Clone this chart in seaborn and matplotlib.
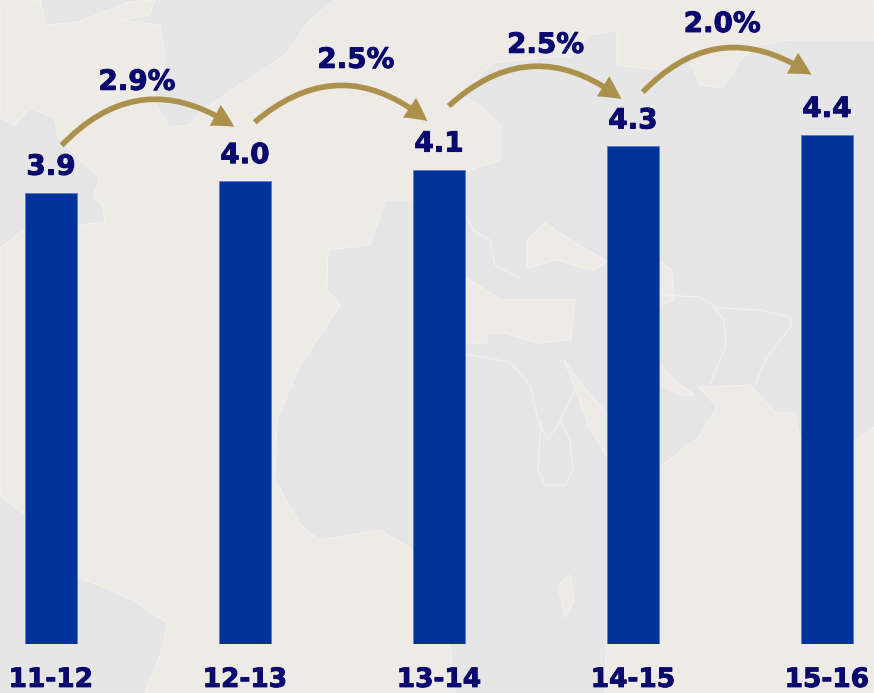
import matplotlib
matplotlib.use("Agg")
import matplotlib.pyplot as plt
import matplotlib.patheffects as pe
from matplotlib.patches import Polygon, FancyArrowPatch
import seaborn as sns

# data
periods = ["11-12", "12-13", "13-14", "14-15", "15-16"]
values = [3.9, 4.0, 4.1, 4.3, 4.4]
growth = ["2.9%", "2.5%", "2.5%", "2.0%"]

# annotation placement in data units
growth_x = [0.443, 1.572, 2.55, 3.46]
growth_y = [4.79, 4.98, 5.11, 5.29]
arrow_start_x = [0.055, 1.05, 2.05, 3.05]
arrow_end_x = [0.945, 1.94, 2.94, 3.92]
arrow_start_y = [4.31, 4.51, 4.65, 4.77]
arrow_end_y = [4.47, 4.52, 4.71, 4.92]

# decorative world-map backdrop (pixel space)
land_main = [(0,248),(30,225),(80,225),(105,222),(103,205),(93,197),(100,177),(80,160),(58,137),(55,118),
             (30,108),(15,125),(0,118),(0,0),(40,0),(45,25),(78,22),(130,2),(155,0),(150,15),(122,20),(160,25),
             (165,60),(153,100),(170,127),(190,125),(200,112),(235,88),(285,55),(310,20),(335,0),(874,0),(874,40),
             (790,40),(760,45),(740,60),(723,88),(700,85),(690,60),(660,70),(617,65),(617,30),(590,35),(570,57),
             (545,57),(492,63),(462,97),(480,105),(500,125),(500,160),(465,172),(413,200),(385,200),(370,245),
             (328,250),(327,290),(340,305),(300,365),(277,420),(275,480),(300,525),(320,540),(380,530),(413,550),
             (445,600),(455,693),(145,693),(163,647),(167,623),(133,600),(110,590),(78,577),(25,515),(0,495)]
land_black_sea = [(527,240),(545,223),(575,243),(600,257),(607,262),(593,270),(556,260),(527,268)]
land_med = [(465,277),(501,300),(575,300),(571,340),(538,343),(505,333),(487,333),(487,343),(465,343)]
land_strip = [(564,360),(586,390),(607,413),(607,457),(589,427),(571,377)]
land_east = [(699,387),(750,385),(776,413),(794,413),(801,440),(853,443),(874,427),(874,693),(605,693),
             (607,600),(660,467),(699,437),(717,407)]
land_gulf = [(660,262),(672,270),(674,300),(660,305)]
land_arc = [(660,365),(680,385),(695,395),(680,395),(660,385)]
land_isle = [(558,585),(570,575),(574,600),(565,618)]
coast_lines = [
    [(465,354),(510,362),(530,385),(538,420),(548,440),(562,418),(574,390)],
    [(541,420),(538,470),(545,485),(565,485),(573,470),(570,440),(560,420)],
    [(714,308),(724,320),(726,345),(708,390)],
    [(721,308),(760,310),(790,317),(792,325),(765,360),(755,385)],
    [(660,295),(700,297),(720,310)],
    [(465,215),(475,232),(490,240),(495,265),(520,278)],
]

sns.set_theme(style="white")
fig = plt.figure(figsize=(8.74, 6.93), dpi=100, facecolor="#E6E6E6")

bg = fig.add_axes([0, 0, 1, 1], zorder=0)
bg.set_xlim(0, 874)
bg.set_ylim(693, 0)
bg.axis("off")
for shape in (land_main, land_black_sea, land_med, land_strip, land_east, land_gulf, land_arc, land_isle):
    bg.add_patch(Polygon(shape, closed=True, facecolor="#EEEAE5", edgecolor="#F3F1EE", linewidth=0.8))
for line in coast_lines:
    bg.plot([p[0] for p in line], [p[1] for p in line], color="#F1F0EE", linewidth=0.9)

ax = fig.add_axes([0, 49 / 693, 1, 644 / 693], zorder=1)
ax.patch.set_alpha(0)
sns.barplot(x=periods, y=values, color="#003399", saturation=1, width=52 / 194,
            edgecolor="#5B7CC4", linewidth=0.6, ax=ax)
ax.set_xlim(-51 / 194, 823 / 194)
ax.set_ylim(0, 644 / 115.7)
sns.despine(ax=ax, left=True, bottom=True)
ax.set_yticks([])
ax.set_xlabel("")
ax.set_ylabel("")

NAVY = "#0A0A6E"
GOLD = "#AB914B"
bolder = [pe.withStroke(linewidth=0.7, foreground=NAVY)]

ax.tick_params(axis="x", length=0, pad=16.5)
for lab in ax.get_xticklabels():
    lab.set_fontsize(19)
    lab.set_fontweight("bold")
    lab.set_color(NAVY)
    lab.set_fontfamily("DejaVu Sans")
    lab.set_path_effects(bolder)

for i, v in enumerate(values):
    ax.annotate(f"{v:.1f}", (i, v), xytext=(0, 13), textcoords="offset points", ha="center", va="baseline",
                fontsize=20, fontweight="bold", color=NAVY, family="DejaVu Sans", path_effects=bolder)

for x, y, s in zip(growth_x, growth_y, growth):
    ax.text(x, y, s, ha="center", va="baseline", fontsize=20, fontweight="bold", color=NAVY,
            family="DejaVu Sans", path_effects=bolder)

for x0, y0, x1, y1 in zip(arrow_start_x, arrow_start_y, arrow_end_x, arrow_end_y):
    ax.add_patch(FancyArrowPatch((x0, y0), (x1, y1), connectionstyle="arc3,rad=-0.42",
                                 arrowstyle="simple,tail_width=4,head_width=17,head_length=16", mutation_scale=1,
                                 facecolor=GOLD, edgecolor=GOLD, linewidth=0, shrinkA=0, shrinkB=0, zorder=4))

fig.savefig("out.png", dpi=100, facecolor=fig.get_facecolor())
